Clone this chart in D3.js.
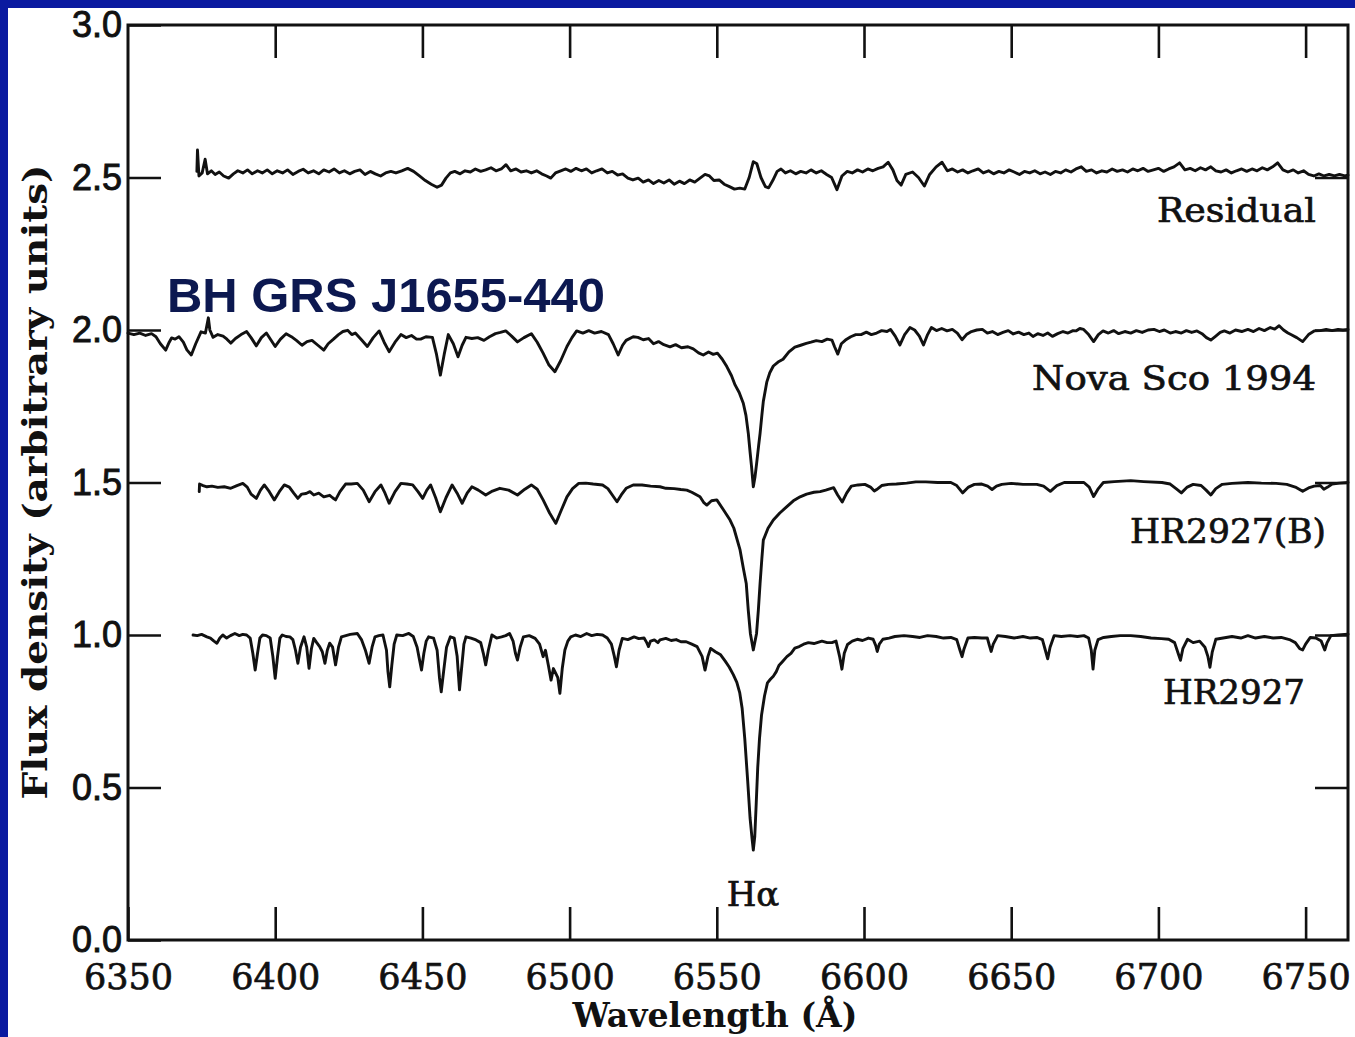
<!DOCTYPE html>
<html>
<head>
<meta charset="utf-8">
<script src="https://cdn.jsdelivr.net/npm/d3@7/dist/d3.min.js"></script>
<style>
  html, body { margin: 0; padding: 0; background: #ffffff; }
  svg { display: block; }
</style>
</head>
<body>
<svg id="chart" width="1355" height="1037"></svg>
<script>
// ---------------- DATA ----------------
const chartTitle = "BH GRS J1655-440";
const xTickValues = [6350, 6400, 6450, 6500, 6550, 6600, 6650, 6700, 6750];
const yTickValues = [0, 0.5, 1.0, 1.5, 2.0, 2.5, 3.0];
const xDomain = [6350, 6764.4];
const yDomain = [0, 3];
const seriesNames = ["Residual", "Nova Sco 1994", "HR2927(B)", "HR2927"];
const lineLabel = "H\u03b1";

// [wavelength (Å), flux]
const residual = [[6373.4,2.52],[6373.6,2.59],[6374.1,2.505],[6375.2,2.515],[6376.2,2.56],[6377.0,2.512],[6378.3,2.522],[6379.6,2.51],[6381.0,2.518],[6382.5,2.505],[6384.2,2.498],[6385.8,2.512],[6387.3,2.522],[6389,2.515],[6390.6,2.525],[6392.2,2.512],[6394,2.522],[6395.6,2.515],[6397.3,2.525],[6399,2.512],[6400.7,2.522],[6402.5,2.515],[6404.2,2.525],[6406,2.51],[6407.8,2.52],[6409.5,2.527],[6411.2,2.515],[6413,2.522],[6414.8,2.512],[6416.5,2.525],[6418.3,2.518],[6420,2.528],[6421.8,2.515],[6423.5,2.522],[6425.3,2.512],[6427,2.52],[6428.8,2.525],[6430.5,2.51],[6432.3,2.52],[6434,2.512],[6435.8,2.505],[6437.5,2.515],[6439.3,2.52],[6441,2.515],[6443,2.522],[6445,2.53],[6447,2.52],[6449,2.505],[6451,2.49],[6453,2.478],[6455,2.468],[6456.5,2.475],[6458,2.498],[6459.5,2.515],[6461,2.52],[6462.8,2.512],[6464.5,2.522],[6466.3,2.518],[6468,2.528],[6469.8,2.52],[6471.5,2.525],[6473.3,2.532],[6475,2.522],[6476.8,2.528],[6478.4,2.542],[6480,2.522],[6481.8,2.528],[6483.5,2.518],[6485.3,2.522],[6487,2.515],[6488.8,2.522],[6490.5,2.512],[6492.2,2.505],[6493.6,2.498],[6495.2,2.515],[6497,2.522],[6498.7,2.528],[6500.4,2.52],[6502.2,2.53],[6504,2.522],[6505.7,2.528],[6507.5,2.515],[6509.2,2.522],[6511,2.528],[6512.8,2.515],[6514.5,2.52],[6516.3,2.508],[6518,2.512],[6519.8,2.498],[6521.5,2.492],[6523.3,2.498],[6525,2.485],[6526.8,2.492],[6528.5,2.48],[6530.3,2.49],[6532,2.482],[6533.8,2.492],[6535.5,2.478],[6537.3,2.488],[6539,2.48],[6540.8,2.492],[6542.5,2.485],[6544.3,2.498],[6546,2.51],[6547.5,2.505],[6549,2.49],[6550.8,2.492],[6552.5,2.478],[6554.3,2.47],[6556,2.462],[6557.8,2.465],[6559.5,2.462],[6561,2.5],[6562.4,2.552],[6563.6,2.545],[6565,2.5],[6566.5,2.47],[6567.6,2.466],[6569,2.49],[6570.5,2.52],[6571.8,2.528],[6573.3,2.515],[6575,2.522],[6576.8,2.512],[6578.5,2.52],[6580.3,2.515],[6582,2.525],[6583.8,2.515],[6585.5,2.522],[6587.3,2.51],[6589,2.5],[6590.8,2.46],[6592.5,2.505],[6594.3,2.52],[6596,2.515],[6597.8,2.525],[6599.5,2.518],[6601.3,2.528],[6603,2.522],[6604.8,2.53],[6606.5,2.535],[6608.2,2.55],[6609.8,2.525],[6611.2,2.49],[6612.6,2.475],[6614.2,2.51],[6616.5,2.518],[6618.5,2.5],[6620.5,2.472],[6622.3,2.51],[6624.5,2.535],[6626.5,2.55],[6628.3,2.522],[6630,2.528],[6631.8,2.518],[6633.5,2.525],[6635.3,2.515],[6637,2.522],[6638.8,2.528],[6640.5,2.515],[6642.3,2.522],[6644,2.512],[6645.8,2.52],[6647.5,2.515],[6649.3,2.525],[6651,2.518],[6652.8,2.51],[6654.5,2.52],[6656.3,2.515],[6658,2.522],[6659.8,2.512],[6661.5,2.518],[6663.3,2.51],[6665,2.52],[6666.8,2.515],[6668.5,2.525],[6670.3,2.518],[6672,2.528],[6673.8,2.535],[6675.5,2.52],[6677.3,2.525],[6679,2.515],[6680.8,2.522],[6682.5,2.518],[6684.3,2.528],[6686,2.52],[6687.8,2.525],[6689.5,2.518],[6691.3,2.528],[6693,2.522],[6694.8,2.53],[6696.5,2.52],[6698.3,2.525],[6700,2.53],[6701.8,2.52],[6703.5,2.528],[6705.3,2.535],[6707.2,2.548],[6709,2.525],[6710.8,2.53],[6712.5,2.522],[6714.3,2.532],[6716,2.525],[6717.8,2.535],[6719.5,2.522],[6721.3,2.518],[6723,2.525],[6724.8,2.515],[6726.5,2.522],[6728.3,2.528],[6730,2.52],[6731.8,2.528],[6733.5,2.522],[6735.3,2.532],[6737,2.525],[6738.8,2.535],[6740.5,2.548],[6742.3,2.525],[6744,2.518],[6745.8,2.525],[6747.5,2.515],[6749.3,2.522],[6751,2.51],[6752.8,2.505],[6754.5,2.512],[6756.3,2.505],[6758,2.51],[6759.8,2.505],[6761.5,2.51],[6763.3,2.505],[6764.4,2.508]];

const novaSco = [[6350,1.99],[6352,1.985],[6354,1.99],[6356,1.982],[6358,1.988],[6359.5,1.978],[6361,1.955],[6362.8,1.934],[6364,1.96],[6364.8,1.974],[6366,1.97],[6367.3,1.978],[6368.8,1.96],[6370,1.935],[6371.5,1.918],[6373,1.955],[6374.8,1.994],[6376.3,1.99],[6377.3,2.04],[6377.8,2.0],[6378.9,1.976],[6380.5,1.985],[6382.3,1.98],[6383.6,1.97],[6384.9,1.957],[6386.5,1.972],[6388.4,1.985],[6390.3,1.995],[6391.8,1.975],[6393.6,1.948],[6395.3,1.975],[6397,1.99],[6398.5,1.968],[6400,1.946],[6401.8,1.97],[6403.7,1.988],[6405.5,1.978],[6407.3,1.965],[6409.1,1.95],[6410.8,1.962],[6412.5,1.966],[6414.5,1.95],[6416.5,1.934],[6418,1.955],[6419.8,1.97],[6421.5,1.985],[6423,1.995],[6424.6,1.999],[6426,1.985],[6427.2,1.99],[6429.3,1.968],[6431.3,1.946],[6433.3,1.975],[6435.3,1.997],[6437,1.96],[6438.7,1.929],[6440.7,1.96],[6442.7,1.985],[6444.5,1.975],[6446.3,1.982],[6448,1.97],[6449.4,1.97],[6451.2,1.978],[6453.4,1.976],[6454.8,1.92],[6456.1,1.852],[6457.4,1.92],[6458.8,1.985],[6460.5,1.955],[6462.1,1.912],[6463.5,1.95],[6464.8,1.976],[6466.8,1.972],[6468.8,1.975],[6470.9,1.966],[6472.8,1.978],[6474.8,1.988],[6476.5,1.992],[6478.3,1.997],[6480.3,1.98],[6482.3,1.961],[6484.5,1.975],[6487,1.988],[6489,1.96],[6491,1.924],[6493,1.885],[6495,1.863],[6497,1.9],[6499.1,1.946],[6500.8,1.975],[6502.4,1.997],[6504.5,1.99],[6506.5,1.998],[6508.5,1.99],[6510.8,1.995],[6513.2,1.985],[6514.8,1.955],[6516.5,1.918],[6518,1.95],[6519.2,1.966],[6521.6,1.978],[6523.2,1.976],[6525,1.968],[6526.8,1.972],[6528.5,1.955],[6530.2,1.962],[6532,1.952],[6534.1,1.945],[6536,1.952],[6538,1.942],[6540.2,1.945],[6542,1.938],[6543.8,1.925],[6545.4,1.918],[6547.2,1.928],[6548.8,1.92],[6550.2,1.924],[6551.8,1.905],[6553.4,1.88],[6555,1.85],[6556.2,1.82],[6557.6,1.795],[6559,1.76],[6559.9,1.72],[6560.7,1.661],[6561.3,1.6],[6561.8,1.552],[6562.4,1.486],[6563,1.52],[6563.5,1.56],[6564.2,1.62],[6564.7,1.661],[6565.3,1.72],[6565.8,1.766],[6567,1.83],[6568,1.86],[6569.2,1.882],[6570.8,1.895],[6572.5,1.904],[6574.5,1.928],[6576.5,1.944],[6578.5,1.95],[6580.4,1.956],[6582,1.96],[6583.8,1.965],[6585.7,1.962],[6587.5,1.97],[6589.1,1.967],[6590,1.945],[6591.1,1.921],[6592.3,1.955],[6593.7,1.967],[6595.5,1.978],[6597.2,1.985],[6599,1.985],[6600.8,1.993],[6602.5,1.985],[6604.3,1.99],[6606,1.998],[6607.8,1.995],[6609,2.002],[6610.6,1.98],[6612.2,1.951],[6613.8,1.985],[6615.6,2.008],[6617.2,2.0],[6618.8,1.98],[6620.2,1.951],[6621.6,1.985],[6622.9,2.008],[6624.6,1.998],[6626.4,2.005],[6628.2,1.997],[6630,2.002],[6631.7,1.99],[6633.3,1.968],[6634.8,1.985],[6636.5,1.995],[6638.3,2.0],[6640.2,2.002],[6641.9,1.99],[6643.6,1.995],[6645.4,1.985],[6647.2,1.992],[6649,1.998],[6650.7,1.987],[6652.5,1.993],[6654.3,1.985],[6656,1.99],[6657.4,1.979],[6659,1.988],[6660.8,1.982],[6662.4,1.99],[6664,1.979],[6665.8,1.988],[6667.6,1.995],[6669.3,1.99],[6671,1.998],[6672,1.997],[6673.3,2.005],[6674.6,2.002],[6676.3,1.985],[6678,1.962],[6679.6,1.985],[6681.2,1.997],[6683,1.99],[6684.8,1.998],[6686.5,1.988],[6688.6,1.995],[6690.6,1.99],[6692.5,1.998],[6694.5,1.992],[6696.5,2.0],[6698.5,2.002],[6700.3,1.995],[6702,2.0],[6704,1.99],[6705.8,1.995],[6707.8,1.99],[6709.5,1.998],[6711.3,1.992],[6713.1,1.997],[6714.8,1.988],[6716.3,1.975],[6717.8,1.967],[6719.5,1.98],[6721,1.992],[6722.4,1.997],[6724.3,1.99],[6726.2,2.0],[6728.3,1.995],[6730.4,2.002],[6732.3,1.995],[6734.2,2.005],[6736,1.998],[6738,2.008],[6739.5,2.003],[6741,2.014],[6742.5,2.0],[6744,1.99],[6745,1.985],[6747,1.975],[6749,1.962],[6751,1.985],[6752.9,1.997],[6755,1.998],[6757,2.002],[6759,1.998],[6761,2.002],[6762.7,2.0],[6764.4,2.002]];

const hr2927B = [[6374.2,1.47],[6374.3,1.495],[6375.5,1.49],[6376.8,1.486],[6378.5,1.488],[6380.5,1.484],[6382.7,1.486],[6384.9,1.481],[6387,1.49],[6389,1.497],[6390.5,1.485],[6391.8,1.462],[6393.6,1.448],[6395,1.475],[6396.3,1.492],[6398,1.47],[6399.7,1.443],[6401.4,1.47],[6403.1,1.492],[6404.8,1.485],[6406.3,1.465],[6407.7,1.448],[6409,1.462],[6410.5,1.464],[6411.8,1.47],[6413.1,1.459],[6414.8,1.465],[6416.5,1.453],[6418.5,1.458],[6419.5,1.45],[6420.5,1.443],[6422,1.47],[6423.9,1.495],[6425.8,1.495],[6427.9,1.497],[6429.9,1.475],[6431.9,1.437],[6433.9,1.47],[6435.9,1.492],[6437.3,1.465],[6438.7,1.432],[6440.7,1.47],[6442.7,1.497],[6444.7,1.495],[6446.7,1.492],[6448.5,1.47],[6450.1,1.448],[6451.5,1.475],[6452.8,1.492],[6454.5,1.45],[6456.1,1.404],[6458,1.45],[6460.1,1.492],[6461.8,1.465],[6463.5,1.432],[6465.2,1.465],[6466.8,1.486],[6469,1.475],[6471.5,1.459],[6473.8,1.472],[6476.3,1.481],[6479.3,1.475],[6482.3,1.459],[6484.8,1.478],[6487,1.492],[6489,1.478],[6491,1.443],[6493.2,1.4],[6495.3,1.366],[6497.2,1.41],[6499.1,1.453],[6501,1.48],[6503.1,1.497],[6505.5,1.498],[6508,1.495],[6511.2,1.492],[6513,1.48],[6514.8,1.455],[6516.1,1.437],[6517.6,1.46],[6519.2,1.481],[6521.6,1.492],[6524.6,1.492],[6527.5,1.488],[6530.7,1.486],[6532.7,1.481],[6535.5,1.48],[6537.8,1.477],[6539.8,1.475],[6541.5,1.468],[6544.3,1.453],[6545.5,1.435],[6546.6,1.426],[6548.2,1.44],[6550,1.443],[6552.3,1.41],[6554.5,1.377],[6555.8,1.35],[6557.9,1.279],[6559,1.22],[6560,1.169],[6560.7,1.08],[6561.4,1.005],[6562.4,0.951],[6563.5,1.005],[6564.1,1.08],[6564.7,1.169],[6565.3,1.25],[6565.8,1.311],[6567.4,1.35],[6569.2,1.377],[6571.4,1.4],[6573.7,1.42],[6576,1.44],[6578.3,1.453],[6580.5,1.462],[6583,1.468],[6585.1,1.47],[6587,1.475],[6589.7,1.483],[6591,1.46],[6592.6,1.436],[6594.1,1.465],[6595.7,1.488],[6598,1.492],[6600.3,1.494],[6602.2,1.485],[6603.5,1.472],[6604.3,1.477],[6606,1.49],[6608.3,1.494],[6611,1.495],[6614.5,1.498],[6617.6,1.502],[6621,1.502],[6625,1.5],[6629.5,1.5],[6631.5,1.49],[6633.5,1.466],[6635.5,1.485],[6637.5,1.494],[6640,1.495],[6642,1.488],[6643.5,1.477],[6645,1.488],[6646.8,1.494],[6650,1.497],[6654,1.494],[6658.7,1.494],[6661,1.488],[6663.3,1.471],[6665.5,1.49],[6668,1.5],[6671.5,1.5],[6674.7,1.5],[6676.5,1.485],[6678,1.454],[6679.6,1.48],[6681.3,1.5],[6685,1.503],[6690.6,1.506],[6695,1.503],[6701.2,1.5],[6704,1.495],[6706,1.48],[6707.8,1.466],[6709.8,1.485],[6711.8,1.494],[6714.5,1.49],[6716.2,1.475],[6717.8,1.459],[6719.5,1.48],[6721.7,1.494],[6725,1.497],[6730.4,1.5],[6735,1.498],[6740,1.497],[6743.6,1.494],[6746.5,1.485],[6749,1.471],[6751,1.482],[6752.9,1.488],[6755,1.49],[6756.2,1.478],[6757.5,1.485],[6759,1.495],[6761.5,1.498],[6764.4,1.5]];

const hr2927 = [[6372.1,1.0],[6373.5,0.998],[6375,1.002],[6376.8,0.994],[6378,0.99],[6379.2,0.98],[6380.2,0.973],[6381.2,0.99],[6382.2,1.0],[6383.5,0.99],[6384.8,0.998],[6386.3,1.005],[6387.8,0.998],[6389,1.002],[6390.3,1.0],[6391.5,0.99],[6392.4,0.94],[6393.2,0.885],[6394,0.94],[6394.8,0.99],[6395.7,1.0],[6397,0.998],[6398.3,0.99],[6399.2,0.93],[6400,0.858],[6400.8,0.93],[6401.6,0.99],[6402.4,1.0],[6403.7,0.995],[6405,0.994],[6406,0.985],[6406.9,0.95],[6407.7,0.907],[6408.6,0.96],[6409.8,0.994],[6410.7,0.96],[6411.5,0.891],[6412.3,0.955],[6413.1,0.989],[6414.1,0.975],[6415.1,0.962],[6416,0.945],[6416.9,0.907],[6417.7,0.95],[6418.5,0.973],[6419.5,0.96],[6420.5,0.902],[6421.5,0.96],[6422.5,0.994],[6424,0.998],[6425.5,1.002],[6427.9,1.005],[6429.3,0.985],[6430.6,0.951],[6431.9,0.907],[6432.9,0.96],[6433.9,0.994],[6435.2,0.998],[6436.6,1.0],[6437.8,0.95],[6438.3,0.88],[6438.9,0.83],[6439.6,0.9],[6440.4,0.97],[6441.3,1.0],[6443.3,0.998],[6445.4,1.005],[6446.9,0.995],[6448.2,0.96],[6449,0.92],[6449.7,0.885],[6450.5,0.94],[6451.3,0.98],[6452.1,0.994],[6453.8,0.99],[6455,0.95],[6455.8,0.86],[6456.4,0.814],[6457.2,0.88],[6458.2,0.96],[6459.5,0.994],[6460.8,0.99],[6461.8,0.93],[6462.6,0.82],[6463.4,0.9],[6464.1,0.97],[6464.8,0.994],[6466.5,0.99],[6468.2,0.984],[6469.8,0.975],[6470.7,0.94],[6471.5,0.902],[6472.4,0.95],[6473.6,1.0],[6475.2,0.99],[6476.9,0.994],[6478.3,0.998],[6479.6,1.005],[6480.8,0.98],[6481.6,0.94],[6482.3,0.918],[6483.2,0.96],[6484.3,0.994],[6486.3,0.998],[6488.3,0.989],[6489.8,0.97],[6491,0.929],[6491.8,0.95],[6492.8,0.9],[6493.7,0.852],[6494.5,0.89],[6495.3,0.874],[6496,0.86],[6496.7,0.809],[6497.5,0.89],[6498.4,0.951],[6499.4,0.98],[6500.4,0.994],[6502,1.0],[6503.8,0.995],[6505.8,1.005],[6507.5,0.998],[6509.3,1.002],[6511.2,1.0],[6512.8,0.99],[6514.2,0.97],[6515.2,0.93],[6515.9,0.896],[6516.8,0.95],[6517.9,0.989],[6519.8,0.985],[6521.9,0.994],[6523.5,0.988],[6525.3,0.99],[6526.2,0.975],[6526.8,0.962],[6527.5,0.98],[6528.8,0.984],[6530,0.975],[6530.7,0.984],[6532.7,0.989],[6534.5,0.982],[6536.2,0.985],[6537.8,0.978],[6539.6,0.978],[6541.5,0.97],[6543.3,0.962],[6545,0.93],[6546,0.885],[6547,0.93],[6547.9,0.956],[6549.5,0.945],[6551.3,0.935],[6552.8,0.915],[6554.2,0.895],[6555.6,0.87],[6556.8,0.845],[6557.8,0.81],[6558.6,0.76],[6559.5,0.66],[6560.5,0.52],[6561.3,0.4],[6562,0.33],[6562.4,0.295],[6562.9,0.34],[6563.4,0.45],[6563.9,0.565],[6564.5,0.66],[6565.2,0.738],[6566.2,0.8],[6567.2,0.843],[6568.2,0.855],[6569.2,0.865],[6570.2,0.88],[6571.1,0.9],[6572.5,0.915],[6573.8,0.929],[6575.2,0.94],[6576.5,0.957],[6578,0.962],[6579.5,0.97],[6581.1,0.975],[6583,0.972],[6585.7,0.98],[6587.5,0.975],[6589.1,0.975],[6590.5,0.98],[6591.7,0.93],[6592.5,0.888],[6593.3,0.94],[6594.4,0.969],[6596,0.98],[6597.7,0.986],[6599.5,0.982],[6601.5,0.99],[6603.1,0.986],[6604,0.965],[6604.5,0.946],[6605.2,0.97],[6606.4,0.986],[6608.5,0.99],[6610.5,0.995],[6613.6,0.998],[6616.5,0.995],[6619,0.992],[6621.6,0.998],[6624.5,0.995],[6627,0.99],[6629.5,0.992],[6631.5,0.985],[6632.6,0.95],[6633.3,0.929],[6634,0.955],[6635.3,0.99],[6637.5,0.992],[6640,0.99],[6641.9,0.99],[6642.6,0.965],[6643.2,0.946],[6643.9,0.97],[6645.4,0.998],[6648,0.995],[6651,0.99],[6654,0.995],[6656.5,0.99],[6658.7,0.992],[6660.6,0.985],[6661.6,0.95],[6662.4,0.922],[6663.2,0.96],[6664.6,0.998],[6667,0.995],[6670,0.998],[6672.5,0.995],[6674.7,0.998],[6676.3,0.99],[6677.2,0.95],[6677.8,0.888],[6678.4,0.95],[6679.5,0.985],[6681.4,0.992],[6684,0.995],[6687,0.998],[6690.6,0.998],[6694,0.995],[6697.5,0.99],[6701,0.988],[6703.5,0.986],[6705.5,0.975],[6706.7,0.94],[6707.5,0.917],[6708.3,0.955],[6709.9,0.986],[6711.8,0.975],[6714,0.98],[6715.8,0.96],[6716.8,0.93],[6717.5,0.894],[6718.3,0.945],[6719.5,0.986],[6722,0.99],[6725,0.995],[6728,0.99],[6730.4,0.998],[6733,0.99],[6736,0.995],[6739,0.99],[6741.7,0.992],[6744.5,0.985],[6746.5,0.975],[6748,0.955],[6749,0.951],[6750,0.97],[6751.6,0.992],[6753.5,0.99],[6755.3,0.98],[6756.5,0.951],[6757.3,0.975],[6758.6,0.998],[6761,1.0],[6764.4,1.003]];

const seriesData = [residual, novaSco, hr2927B, hr2927];

// ---------------- LAYOUT ----------------
const W = 1355, H = 1037;
const plot = { left: 128, right: 1348, top: 25, bottom: 940 };
const tickLen = 33;
const ink = "#111111";

const svg = d3.select("#chart");

// blue slide frame
svg.append("rect").attr("x", 0).attr("y", 0).attr("width", W).attr("height", H).attr("fill", "#0a1aa0");
svg.append("rect").attr("x", 8).attr("y", 8).attr("width", W - 8).attr("height", H - 8).attr("fill", "#ffffff");

const x = d3.scaleLinear().domain(xDomain).range([plot.left, plot.right]);
const y = d3.scaleLinear().domain(yDomain).range([plot.bottom, plot.top]);

const serif = "'DejaVu Serif', 'Liberation Serif', serif";
const sans = "'Liberation Sans', Arial, sans-serif";

// bottom axis (ticks inward, labels below)
const gBottom = svg.append("g").attr("transform", `translate(0,${plot.bottom})`)
  .call(d3.axisBottom(x).tickValues(xTickValues).tickSizeInner(-tickLen).tickSizeOuter(0).tickPadding(24).tickFormat(d3.format("d")));
gBottom.select(".domain").remove();
gBottom.selectAll(".tick line").attr("stroke", ink).attr("stroke-width", 2.6);
gBottom.selectAll(".tick text").attr("font-family", serif).attr("font-size", 35).attr("fill", ink)
  .attr("stroke", ink).attr("stroke-width", 0.7)
  .attr("dy", "0.71em");

// top axis
const gTop = svg.append("g").attr("transform", `translate(0,${plot.top})`)
  .call(d3.axisTop(x).tickValues(xTickValues.filter(v => v > xDomain[0])).tickSizeInner(-tickLen).tickSizeOuter(0).tickFormat(""));
gTop.select(".domain").remove();
gTop.selectAll(".tick line").attr("stroke", ink).attr("stroke-width", 2.6);

// left axis
const gLeft = svg.append("g").attr("transform", `translate(${plot.left},0)`)
  .call(d3.axisLeft(y).tickValues(yTickValues).tickSizeInner(-tickLen).tickSizeOuter(0).tickPadding(6).tickFormat(d3.format(".1f")));
gLeft.select(".domain").remove();
gLeft.selectAll(".tick line").attr("stroke", ink).attr("stroke-width", 2.6);
gLeft.selectAll(".tick text").attr("font-family", sans).attr("font-size", 36).attr("fill", ink)
  .attr("stroke", ink).attr("stroke-width", 0.9);

// right axis
const gRight = svg.append("g").attr("transform", `translate(${plot.right},0)`)
  .call(d3.axisRight(y).tickValues(yTickValues.filter(v => v > 0 && v < 3)).tickSizeInner(-tickLen).tickSizeOuter(0).tickFormat(""));
gRight.select(".domain").remove();
gRight.selectAll(".tick line").attr("stroke", ink).attr("stroke-width", 2.6);

// frame
svg.append("rect")
  .attr("x", plot.left).attr("y", plot.top)
  .attr("width", plot.right - plot.left).attr("height", plot.bottom - plot.top)
  .attr("fill", "none").attr("stroke", ink).attr("stroke-width", 3);

// spectra
const line = d3.line().x(d => x(d[0])).y(d => y(d[1]));
svg.append("g").selectAll("path").data(seriesData).join("path")
  .attr("d", line)
  .attr("fill", "none")
  .attr("stroke", ink)
  .attr("stroke-width", 2.9)
  .attr("stroke-linejoin", "round")
  .attr("stroke-linecap", "round");

// series labels
const labelPos = [
  { x: 1316, y: 222, len: 159 },
  { x: 1316, y: 390, len: 284 },
  { x: 1326, y: 543, len: 196 },
  { x: 1305, y: 704, len: 142 }
];
svg.append("g").selectAll("text").data(seriesNames).join("text")
  .attr("x", (d, i) => labelPos[i].x)
  .attr("y", (d, i) => labelPos[i].y)
  .attr("text-anchor", "end")
  .attr("font-family", serif)
  .attr("font-size", 34)
  .attr("fill", ink)
  .attr("stroke", ink).attr("stroke-width", 0.7)
  .attr("textLength", (d, i) => labelPos[i].len)
  .attr("lengthAdjust", "spacingAndGlyphs")
  .text(d => d);

// H-alpha label
svg.append("text")
  .attr("x", 753).attr("y", 906)
  .attr("text-anchor", "middle")
  .attr("font-family", serif)
  .attr("font-size", 34)
  .attr("fill", ink)
  .attr("stroke", ink).attr("stroke-width", 0.7)
  .text(lineLabel);

// axis titles
svg.append("text")
  .attr("x", 715).attr("y", 1027)
  .attr("text-anchor", "middle")
  .attr("font-family", serif)
  .attr("font-size", 34)
  .attr("font-weight", "bold")
  .attr("fill", ink)
  .attr("textLength", 285)
  .attr("lengthAdjust", "spacingAndGlyphs")
  .text("Wavelength (\u00c5)");

svg.append("text")
  .attr("transform", "translate(47,482) rotate(-90)")
  .attr("text-anchor", "middle")
  .attr("font-family", serif)
  .attr("font-size", 33)
  .attr("font-weight", "bold")
  .attr("fill", ink)
  .attr("textLength", 635)
  .attr("lengthAdjust", "spacingAndGlyphs")
  .text("Flux density (arbitrary units)");

// slide title
svg.append("text")
  .attr("x", 167).attr("y", 312)
  .attr("font-family", sans)
  .attr("font-weight", "bold")
  .attr("font-size", 49)
  .attr("fill", "#0c1850")
  .attr("textLength", 438)
  .attr("lengthAdjust", "spacingAndGlyphs")
  .text(chartTitle);
</script>
</body>
</html>
